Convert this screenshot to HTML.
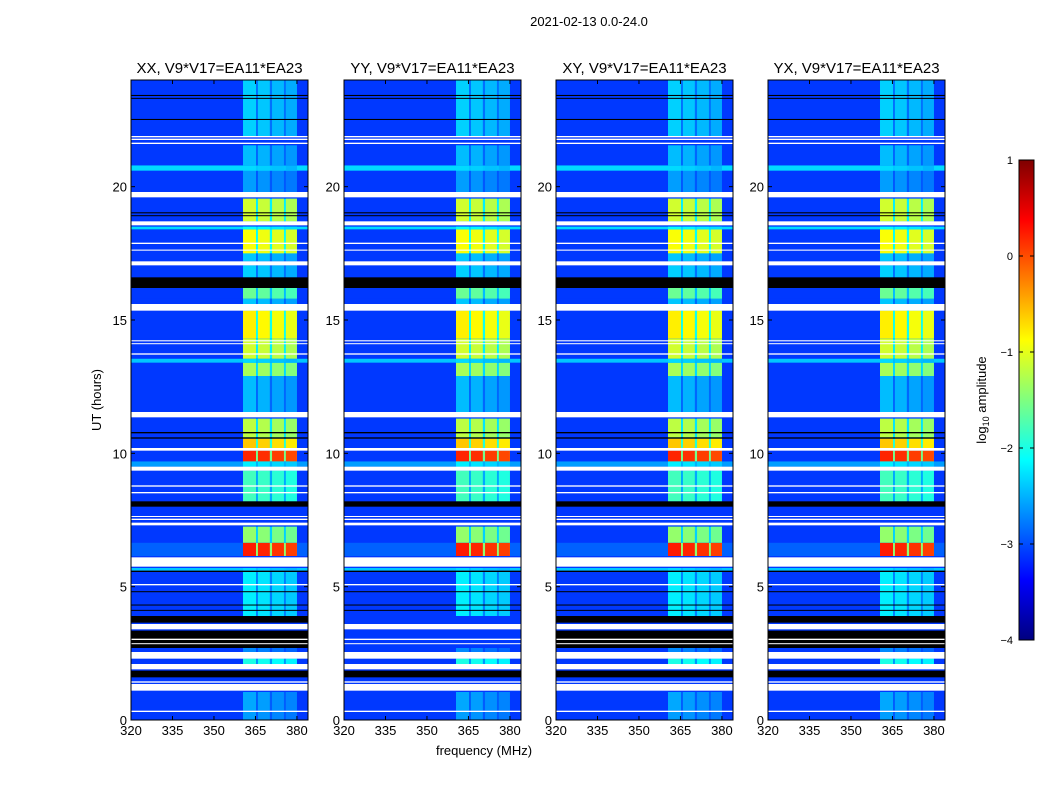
<!DOCTYPE html>
<html><head><meta charset="utf-8">
<style>
body{margin:0;background:#fff;width:1050px;height:800px;overflow:hidden;font-family:"Liberation Sans",sans-serif}
svg text{font-family:"Liberation Sans",sans-serif}
</style></head>
<body>
<svg id="fig" width="1050" height="800" xmlns="http://www.w3.org/2000/svg">
<text x="589" y="26" font-size="13" text-anchor="middle">2021-02-13 0.0-24.0</text>
<text x="484" y="755" font-size="13" text-anchor="middle">frequency (MHz)</text>
<text x="101" y="400" font-size="13" text-anchor="middle" transform="rotate(-90 101 400)">UT (hours)</text>
<g id="panels"></g>
<defs><linearGradient id="jet" x1="0" y1="1" x2="0" y2="0">
<stop offset="0" stop-color="#00007f"/><stop offset="0.125" stop-color="#0000ff"/><stop offset="0.375" stop-color="#00ffff"/><stop offset="0.625" stop-color="#ffff00"/><stop offset="0.875" stop-color="#ff0000"/><stop offset="1" stop-color="#7f0000"/></linearGradient></defs>
<rect x="1019" y="160" width="15" height="480" fill="url(#jet)" stroke="#000"/>
<g id="cbar" font-size="11"></g>
<text x="986" y="400" font-size="13" text-anchor="middle" transform="rotate(-90 986 400)">log<tspan font-size="9" dy="3">10</tspan><tspan dy="-3"> amplitude</tspan></text>
</svg>
<script>
const panelTitles=["XX, V9*V17=EA11*EA23","YY, V9*V17=EA11*EA23","XY, V9*V17=EA11*EA23","YX, V9*V17=EA11*EA23"];
const panelLeft=[131,344,556,768];
const xTicks=[320,335,350,365,380];
const yTicks=[0,5,10,15,20];
const cbTicks=[1,0,-1,-2,-3,-4];
const subbandLo=[360.5,365.9,371,376];
const subbandHi=[365.2,370.2,375.3,380];
const subbandOffset=[0,-0.05,-0.12,-0.18];
// data rows: start hour, end hour, background log amp, band log amp
const rowStart=[0,0.35,2.1,2.55,3.9,5.6,6.15,6.65,8.2,9.5,9.7,10.2,10.6,11.55,12.9,13.4,13.55,14.3,15.6,15.8,16.6,17.2,17.5,18.4,18.7,19.8,20.6,20.8,21.9];
const rowEnd  =[0.3,1.05,2.3,2.7,5.55,5.7,6.65,7.25,9.35,9.7,10.1,10.55,11.3,12.9,13.4,13.55,14.3,15.35,15.8,16.2,17.05,17.5,18.4,18.5,19.55,20.6,20.8,21.55,24];
const rowBg   =[-3.1,-3.1,-3.1,-3.1,-3.1,-2.4,-2.9,-3.1,-3.1,-2.6,-3.1,-3.1,-3.1,-3.1,-3.1,-2.4,-3.1,-3.1,-3.1,-3.1,-3.1,-3.1,-3.1,-2.3,-3.1,-3.1,-2.3,-3.1,-3.1];
const rowBand =[-2.6,-2.55,-2.0,-2.7,-2.2,-2.3,0.25,-1.4,-1.8,-2.2,0.2,-0.6,-1.2,-2.45,-1.3,-2.3,-1.1,-0.8,-2.4,-1.6,-2.35,-2.4,-0.9,-2.1,-1.1,-2.6,-2.3,-2.45,-2.35];
// flagged rows (white = no data, black = zero)
const whiteStart=[0.3,1.1,1.4,1.9,2.3,2.85,3.0,3.4,5.05,5.75,7.3,7.5,7.62,8.5,8.75,9.35,10.1,11.35,13.7,14.1,14.2,15.35,17.05,17.6,17.85,18.55,19.6,21.6,21.75,21.85];
const whiteEnd  =[0.35,1.35,1.45,2.1,2.55,2.88,3.05,3.6,5.1,6.1,7.4,7.55,7.65,8.55,8.8,9.5,10.2,11.55,13.75,14.13,14.24,15.6,17.2,17.64,17.9,18.7,19.8,21.65,21.8,21.9];
const blackStart=[1.6,2.7,3.65,4.1,4.3,4.8,5.55,8.0,10.55,10.75,16.2,18.9,19.0,22.5,23.3,23.4];
const blackEnd  =[1.85,3.35,3.9,4.13,4.33,4.83,5.6,8.2,10.6,10.8,16.6,18.93,19.04,22.54,23.33,23.44];
// YY panel: black flags between these hours are unflagged
const yyUnflagStart=2.5, yyUnflagEnd=4.0;

function jet(v){v=Math.max(0,Math.min(1,(v+4)/5));
 const st=[[0,0,0,127],[0.125,0,0,255],[0.375,0,255,255],[0.625,255,255,0],[0.875,255,0,0],[1,127,0,0]];
 for(let i=1;i<st.length;i++){if(v<=st[i][0]){const a=st[i-1],b=st[i],f=(v-a[0])/(b[0]-a[0]);
 return `rgb(${Math.round(a[1]+f*(b[1]-a[1]))},${Math.round(a[2]+f*(b[2]-a[2]))},${Math.round(a[3]+f*(b[3]-a[3]))})`;}}
 return 'rgb(127,0,0)';}
const NS='http://www.w3.org/2000/svg';
function mk(tag,attrs,parent){const e=document.createElementNS(NS,tag);for(const k in attrs)e.setAttribute(k,attrs[k]);parent.appendChild(e);return e;}
const yTop=80,yBot=720,W=177,fMin=320,fMax=384,tMax=24;
const yS=t=>yBot-(t/tMax)*(yBot-yTop);
const root=document.getElementById('panels');
panelLeft.forEach((L,p)=>{
 const xS=f=>L+(f-fMin)/(fMax-fMin)*W;
 const g=mk('g',{},root);
 
 
 const bgr=mk('rect',{x:L,y:yTop,width:W,height:yBot-yTop,fill:jet(-3.1)},g);
 
 
 for(let i=0;i<rowStart.length;i++){
  const y0=yS(rowEnd[i]),h=Math.max(1,yS(rowStart[i])-y0);
  const bgv=rowBg[i], bv=rowBand[i];
  const r=mk('rect',{x:L,y:y0,width:W,height:h,fill:jet(bgv)},g);
  
  
  const gap=mk('rect',{x:xS(subbandLo[0]),y:y0,width:xS(subbandHi[3])-xS(subbandLo[0]),height:h,fill:jet((bgv+bv)/2-0.1)},g);
  
  
  for(let s=0;s<4;s++){
   const c=mk('rect',{x:xS(subbandLo[s]),y:y0,width:xS(subbandHi[s])-xS(subbandLo[s]),height:h,fill:jet(bv+subbandOffset[s])},g);
   
   
  }
 }
 for(let i=0;i<blackStart.length;i++){
  if(p===1&&blackStart[i]>=yyUnflagStart&&blackEnd[i]<=yyUnflagEnd)continue;
  const y0=yS(blackEnd[i]),h=Math.max(1,yS(blackStart[i])-y0);
  const r=mk('rect',{x:L,y:y0,width:W,height:h,fill:'#000'},g);
  
  
 }
 for(let i=0;i<whiteStart.length;i++){
  const y0=yS(whiteEnd[i]),h=Math.max(1,yS(whiteStart[i])-y0);
  const r=mk('rect',{x:L,y:y0,width:W,height:h,fill:'#fff'},g);
  
  
 }
 const fr=mk('rect',{x:L,y:yTop,width:W,height:yBot-yTop,fill:'none',stroke:'#000','stroke-width':1},g);
 
 
 const tt=mk('text',{x:L+W/2,y:73,'font-size':15,'text-anchor':'middle'},g);tt.textContent=panelTitles[p];
 
 
 xTicks.forEach(f=>{const x=xS(f);
  mk('line',{x1:x,x2:x,y1:yBot,y2:yBot-4,stroke:'#000'},g);mk('line',{x1:x,x2:x,y1:yTop,y2:yTop+4,stroke:'#000'},g);
  const t=mk('text',{x:x,y:yBot+15,'font-size':13,'text-anchor':'middle'},g);t.textContent=f;
  
  });
 yTicks.forEach(v=>{const y=yS(v);
  mk('line',{x1:L,x2:L+4,y1:y,y2:y,stroke:'#000'},g);mk('line',{x1:L+W,x2:L+W-4,y1:y,y2:y,stroke:'#000'},g);
  const t=mk('text',{x:L-4,y:y+5,'font-size':13,'text-anchor':'end'},g);t.textContent=v;
  
  });
});
const cb=document.getElementById('cbar');
cbTicks.forEach(v=>{const y=160+(1-v)/5*480;
 mk('line',{x1:1019,x2:1023,y1:y,y2:y,stroke:'#000'},cb);mk('line',{x1:1034,x2:1030,y1:y,y2:y,stroke:'#000'},cb);
 const t=mk('text',{x:1013,y:y+4,'text-anchor':'end'},cb);t.textContent=v<0?'\u2212'+(-v):String(v);
 
 });
</script>
</body></html>
